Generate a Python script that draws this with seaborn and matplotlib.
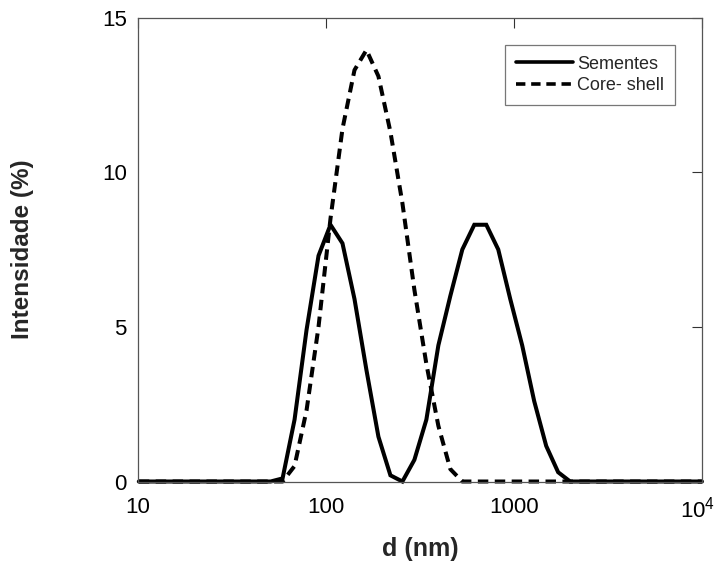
import matplotlib
matplotlib.use("Agg")
import matplotlib.pyplot as plt
import matplotlib.transforms as mtransforms
from matplotlib.ticker import FixedLocator, FixedFormatter, NullLocator
import seaborn as sns
import pandas as pd

# Size bins (nm) of the DLS distribution
diameter_nm = [
    10.10, 11.70, 13.54, 15.69, 18.17, 21.04, 24.36, 28.21, 32.67, 37.84,
    43.82, 50.75, 58.77, 68.06, 78.82, 91.28, 105.7, 122.4, 141.8, 164.2,
    190.1, 220.2, 255.0, 295.3, 342.0, 396.1, 458.7, 531.2, 615.1, 712.4,
    825.0, 955.4, 1106, 1281, 1484, 1718, 1990, 2305, 2669, 3091,
    3580, 4145, 4801, 5560, 6439, 7456, 8635, 10000,
]

# Intensity (%) per bin
sementes = [
    0, 0, 0, 0, 0, 0, 0, 0, 0, 0,
    0, 0, 0.1, 2.0, 4.9, 7.3, 8.3, 7.7, 5.9, 3.6,
    1.45, 0.2, 0, 0.7, 2.0, 4.4, 6.0, 7.5, 8.3, 8.3,
    7.5, 5.9, 4.4, 2.6, 1.15, 0.3, 0, 0, 0, 0,
    0, 0, 0, 0, 0, 0, 0, 0,
]
core_shell = [
    0, 0, 0, 0, 0, 0, 0, 0, 0, 0,
    0, 0, 0, 0.5, 2.3, 5.0, 8.5, 11.4, 13.3, 13.95,
    13.1, 11.3, 9.0, 6.2, 3.8, 1.8, 0.4, 0, 0, 0,
    0, 0, 0, 0, 0, 0, 0, 0, 0, 0,
    0, 0, 0, 0, 0, 0, 0, 0,
]

series_names = ["Sementes", "Core- shell"]
x_ticks = [10, 100, 1000, 10000]
x_tick_labels = ["10", "100", "1000", "10$^4$"]
y_ticks = [0, 5, 10, 15]

sns.set_style("white")
plt.rcParams["font.family"] = ["Liberation Sans", "DejaVu Sans"]
plt.rcParams["mathtext.default"] = "regular"

df = pd.DataFrame({
    "d": diameter_nm * 2,
    "I": sementes + core_shell,
    "serie": [series_names[0]] * len(sementes) + [series_names[1]] * len(core_shell),
})

fig = plt.figure(figsize=(7.16, 5.61), dpi=100)
ax = fig.add_axes([0.1927, 0.1417, 0.7877, 0.8271])

lw = 2.9
sns.lineplot(data=df[df["serie"] == series_names[0]], x="d", y="I", ax=ax,
             color="black", linewidth=lw, label=series_names[0], legend=False)
sns.lineplot(data=df[df["serie"] == series_names[1]], x="d", y="I", ax=ax,
             color="black", linewidth=lw, dashes=False, label=series_names[1],
             legend=False)
ax.lines[1].set_dashes((2.6, 1.6))
for ln in ax.lines:
    ln.set_clip_on(False)
    ln.set_solid_joinstyle("miter")

ax.set_xscale("log")
ax.set_xlim(10, 10000)
ax.set_ylim(0, 15)

ax.xaxis.set_major_locator(FixedLocator(x_ticks))
ax.xaxis.set_major_formatter(FixedFormatter(x_tick_labels))
ax.xaxis.set_minor_locator(NullLocator())
ax.yaxis.set_major_locator(FixedLocator(y_ticks))

ax.tick_params(axis="both", which="major", direction="in", length=7,
               width=0.8, color="#333333", labelsize=16, top=True, right=True,
               labelcolor="black")
ax.tick_params(axis="x", pad=11)
ax.tick_params(axis="y", pad=8)

# keep the last x label inside the figure
fig.canvas.draw()
last = ax.get_xticklabels()[-1]
last.set_transform(last.get_transform() +
                   mtransforms.ScaledTranslation(-4 / 100, 0, fig.dpi_scale_trans))

for sp in ax.spines.values():
    sp.set_visible(True)
    sp.set_color("#555555")
    sp.set_linewidth(0.9)

ax.set_xlabel("d (nm)", fontsize=18, fontweight="bold")
ax.set_ylabel("Intensidade (%)", fontsize=17.5, fontweight="bold")
ax.xaxis.label.set_va("center")
ax.yaxis.label.set_va("center")
ax.xaxis.set_label_coords(0.5, -0.145)
ax.yaxis.set_label_coords(-0.205, 0.5)

leg = ax.legend(loc="upper right", bbox_to_anchor=(0.952, 0.941),
                fontsize=13, frameon=True, fancybox=False, shadow=False,
                handlelength=3.2, handletextpad=0.2, labelspacing=0.25,
                borderpad=0.6, borderaxespad=0)
leg.get_frame().set_edgecolor("#555555")
leg.get_frame().set_linewidth(0.9)
for h in leg.get_lines():
    h.set_linewidth(2.6)

fig.savefig("out.png", dpi=100)
